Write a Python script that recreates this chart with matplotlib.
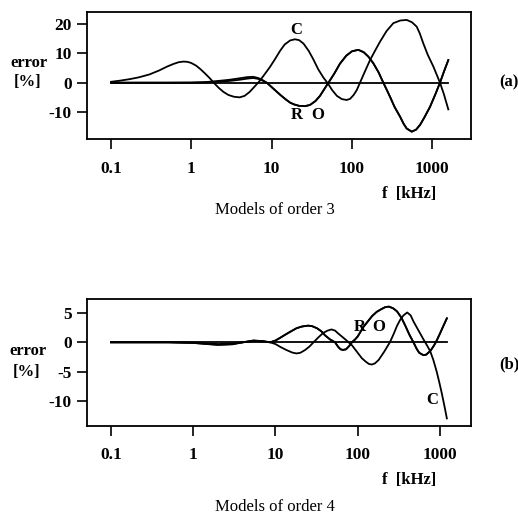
import matplotlib
matplotlib.use("Agg")
import matplotlib.pyplot as plt
from matplotlib.ticker import FixedLocator, NullLocator

plt.rcParams['font.family'] = ['Liberation Serif', 'DejaVu Serif']

# ---------------- data: models of order 3 ----------------
f3_C = [0.1, 0.13, 0.17, 0.22, 0.3, 0.4, 0.5, 0.6, 0.7, 0.8, 0.9, 1.0, 1.15, 1.3, 1.5, 1.7, 1.9,
        2.2, 2.5, 2.9, 3.4, 4.0, 4.6, 5.3, 6.1, 7.0, 8.0, 9.5, 11, 12.7, 14.5, 17, 19.5, 22, 25,
        29, 33, 38, 44, 50, 57, 65, 75, 86, 95, 105, 115, 126, 145, 168, 195, 224, 270, 328, 400,
        480, 560, 641, 700, 774, 880, 1033, 1250, 1400, 1586]
e3_C = [0.3, 0.7, 1.2, 1.8, 2.8, 4.2, 5.5, 6.4, 7.0, 7.2, 7.1, 6.7, 5.8, 4.6, 3.0, 1.5, 0.0,
        -1.8, -3.1, -4.2, -4.8, -5.0, -4.5, -3.2, -1.4, 0.4, 2.5, 5.3, 8.0, 10.8, 13.0, 14.4, 14.8, 14.5, 13.3,
        10.8, 8.0, 4.6, 1.8, -0.2, -2.6, -4.5, -5.6, -5.9, -5.5, -4.2, -2.5, 0.0, 3.8, 7.7, 11.0, 14.0, 17.6, 20.3, 21.2,
        21.4, 20.6, 19.1, 16.8, 13.4, 9.5, 5.5, 0.0, -4.0, -9.1]

f3_R = [0.1, 0.5, 1.0, 1.5, 2.0, 3.0, 4.0, 5.0, 5.9, 6.8, 7.7, 8.7, 10, 11.5, 13, 15, 17, 19, 22,
        26, 30, 35, 40, 45, 51, 60, 71, 85, 100, 120, 140, 160, 185, 215, 246, 270, 298, 340, 398,
        440, 480, 556, 630, 705, 800, 940, 1100, 1250, 1400, 1586]
e3_R = [0.0, 0.0, 0.05, 0.2, 0.5, 1.0, 1.5, 1.9, 2.0, 1.6, 0.9, 0.0, -1.5, -3.0, -4.3, -5.7, -6.8, -7.4, -7.9,
        -8.0, -7.6, -6.3, -4.5, -2.3, 0.0, 3.0, 6.5, 9.2, 10.7, 11.2, 10.4, 8.9, 6.6, 3.5, 0.0, -2.3, -4.8, -8.3, -11.6,
        -14.0, -15.6, -16.7, -16.0, -14.4, -11.8, -8.2, -3.8, 0.0, 3.8, 7.7]
e3_O = [0.0, 0.0, 0.0, 0.1, 0.3, 0.6, 1.0, 1.4, 1.6, 1.3, 0.7, 0.0, -1.5, -3.0, -4.3, -5.7, -6.8, -7.4, -7.9,
        -8.0, -7.6, -6.3, -4.5, -2.3, 0.0, 3.0, 6.5, 9.2, 10.7, 11.2, 10.4, 8.9, 6.6, 3.5, 0.0, -2.3, -4.8, -8.3, -11.6,
        -14.0, -15.6, -16.7, -16.0, -14.4, -11.8, -8.2, -3.8, 0.0, 3.8, 7.7]

f3_ref = [0.1, 1586]
e3_ref = [0.0, 0.0]

# ---------------- data: models of order 4 ----------------
f4_C = [0.1, 0.5, 1.0, 1.5, 2.0, 3.0, 4.0, 5.4, 7.0, 8.6, 10, 11.5, 13.5, 16, 18, 20, 23, 26, 29,
        33, 38, 43, 48, 53, 58, 64, 72, 85, 100, 112, 125, 137, 148, 162, 180, 210, 246, 275, 300,
        330, 360, 400, 440, 479, 520, 575, 630, 694, 760, 830, 912, 980, 1052, 1130, 1213]
e4_C = [0.0, 0.0, -0.1, -0.3, -0.4, -0.3, 0.0, 0.3, 0.2, 0.0, -0.3, -0.8, -1.3, -1.75, -1.9, -1.8, -1.3, -0.7, 0.0,
        0.8, 1.6, 2.0, 2.2, 2.0, 1.5, 1.0, 0.4, -0.5, -1.8, -2.7, -3.3, -3.7, -3.8, -3.6, -3.0, -1.6, 0.0, 1.5, 2.8,
        3.9, 4.6, 5.1, 4.6, 3.5, 2.6, 1.5, 0.5, -0.5, -1.5, -3.0, -5.0, -6.8, -8.7, -10.8, -13.0]

f4_R = [0.1, 0.5, 1.0, 1.5, 2.0, 3.0, 4.0, 5.4, 7.0, 8.6, 10, 11.5, 13.5, 16, 18, 21, 25, 28, 32,
        36, 40, 46, 53, 58, 62, 66, 72, 78, 85, 93, 100, 117, 135, 150, 170, 190, 215, 240, 270,
        300, 340, 380, 425, 476, 520, 560, 630, 680, 720, 780, 850, 920, 1000, 1100, 1213]
e4_R = [0.0, 0.0, -0.1, -0.3, -0.45, -0.35, 0.0, 0.3, 0.2, 0.0, 0.3, 0.8, 1.4, 2.0, 2.4, 2.7, 2.85, 2.75, 2.4,
        1.9, 1.2, 0.5, 0.0, -0.8, -1.2, -1.3, -1.2, -0.7, 0.0, 0.5, 1.0, 2.6, 3.7, 4.5, 5.2, 5.6, 6.0, 6.1, 5.8,
        5.3, 4.2, 2.8, 1.3, 0.0, -1.1, -1.8, -2.2, -2.1, -1.8, -1.3, -0.5, 0.4, 1.5, 2.8, 4.1]
e4_O = [0.0, 0.0, -0.05, -0.2, -0.3, -0.2, 0.0, 0.2, 0.15, 0.0, 0.3, 0.8, 1.4, 2.0, 2.4, 2.7, 2.85, 2.75, 2.4,
        1.9, 1.2, 0.5, 0.0, -0.8, -1.2, -1.3, -1.2, -0.7, 0.0, 0.5, 1.0, 2.6, 3.7, 4.5, 5.2, 5.6, 6.0, 6.1, 5.8,
        5.3, 4.2, 2.8, 1.3, 0.0, -1.1, -1.8, -2.2, -2.1, -1.8, -1.3, -0.5, 0.4, 1.5, 2.8, 4.1]

f4_ref = [0.1, 1213]
e4_ref = [0.0, 0.0]

xticks = [0.1, 1, 10, 100, 1000]
xticklabels = ["0.1", "1", "10", "100", "1000"]
yticks3 = [-10, 0, 10, 20]
yticklabels3 = ["-10", "0", "10", "20"]
yticks4 = [-10, -5, 0, 5]
yticklabels4 = ["-10", "-5", "0", "5"]

W, H = 518, 517
fig = plt.figure(figsize=(W / 100, H / 100), dpi=100)

def px_axes(l, t, r, b):
    return fig.add_axes([l / W, 1 - b / H, (r - l) / W, (b - t) / H])

ax1 = px_axes(87, 12, 471, 139)
ax2 = px_axes(87, 299, 471, 426)

lw = 1.3
for ax, fc, ec, fr, er, eo, fref, eref, yt, ytl, xlim, ylim, xpad in [
        (ax1, f3_C, e3_C, f3_R, e3_R, e3_O, f3_ref, e3_ref, yticks3, yticklabels3,
         (0.0502, 3040), (-19.2, 24.1), 9),
        (ax2, f4_C, e4_C, f4_R, e4_R, e4_O, f4_ref, e4_ref, yticks4, yticklabels4,
         (0.0511, 2384), (-14.3, 7.4), 8)]:
    ax.plot(fref, eref, color='black', lw=lw)
    ax.plot(fr, er, color='black', lw=lw)
    ax.plot(fr, eo, color='black', lw=lw)
    ax.plot(fc, ec, color='black', lw=lw)
    ax.set_xscale('log')
    ax.set_xlim(*xlim)
    ax.set_ylim(*ylim)
    ax.xaxis.set_major_locator(FixedLocator(xticks))
    ax.xaxis.set_minor_locator(NullLocator())
    ax.set_xticklabels(xticklabels)
    ax.set_yticks(yt)
    ax.set_yticklabels(ytl)
    ax.tick_params(axis='both', direction='out', length=7, width=1.2, labelsize=12.5)
    ax.tick_params(axis='x', pad=xpad)
    ax.tick_params(axis='y', pad=4)
    for lab in ax.get_xticklabels() + ax.get_yticklabels():
        lab.set_fontweight('bold')
    for sp in ax.spines.values():
        sp.set_linewidth(1.3)

# curve labels
lfs = 12
ax1.text(20.3, 18.0, "C", ha='center', va='center', fontsize=lfs, fontweight='bold')
ax1.text(20.6, -11.0, "R", ha='center', va='center', fontsize=lfs, fontweight='bold')
ax1.text(38, -11.0, "O", ha='center', va='center', fontsize=lfs, fontweight='bold')
ax2.text(105, 2.7, "R", ha='center', va='center', fontsize=lfs, fontweight='bold')
ax2.text(178, 2.7, "O", ha='center', va='center', fontsize=lfs, fontweight='bold')
ax2.text(795, -9.9, "C", ha='center', va='center', fontsize=lfs, fontweight='bold')

def ftext(x, y, s, **kw):
    fig.text(x / W, 1 - y / H, s, ha='center', va='center', **kw)

fs = 12
ftext(29, 63, "error", fontsize=fs, fontweight='bold')
ftext(28, 82, "[%]", fontsize=fs, fontweight='bold')
ftext(509, 82, "(a)", fontsize=fs, fontweight='bold')
ftext(409, 194, "f  [kHz]", fontsize=fs, fontweight='bold')
ftext(275, 210, "Models of order 3", fontsize=fs)

ftext(28, 351, "error", fontsize=fs, fontweight='bold')
ftext(27, 372, "[%]", fontsize=fs, fontweight='bold')
ftext(509, 364, "(b)", fontsize=fs, fontweight='bold')
ftext(409, 480, "f  [kHz]", fontsize=fs, fontweight='bold')
ftext(275, 507, "Models of order 4", fontsize=fs)

fig.savefig("out.png", dpi=100)
